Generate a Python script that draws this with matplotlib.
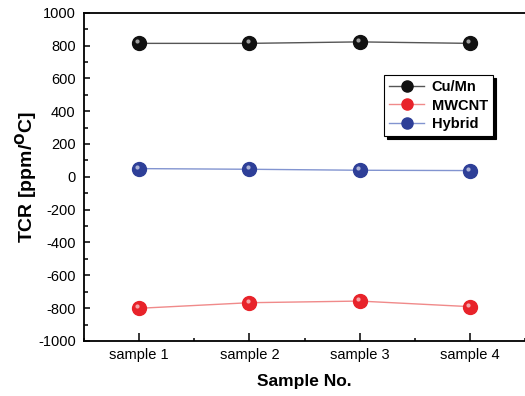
import matplotlib
matplotlib.use("Agg")
import matplotlib.pyplot as plt
import matplotlib.transforms as mtransforms
from matplotlib.ticker import MultipleLocator

plt.rcParams['font.family'] = ['Liberation Sans', 'DejaVu Sans']
plt.rcParams['axes.unicode_minus'] = False

# data
samples = ['sample 1', 'sample 2', 'sample 3', 'sample 4']
cumn = [813, 813, 822, 813]
mwcnt = [-801, -767, -757, -791]
hybrid = [50, 46, 40, 38]

series = [
    ('Cu/Mn', cumn, '#111111', '#555555'),
    ('MWCNT', mwcnt, '#e8232a', '#f08a8a'),
    ('Hybrid', hybrid, '#2e3f98', '#8294d0'),
]

fig = plt.figure(figsize=(5.25, 3.96), dpi=100)
ax = fig.add_axes([0.16, 0.139, 0.84, 0.829])

x = list(range(1, len(samples) + 1))
# small white highlight to mimic the shaded balls
hl = mtransforms.offset_copy(ax.transData, fig=fig, x=-1.3, y=1.4, units='points')
for name, vals, mcol, lcol in series:
    ax.plot(x, vals, '-', color=lcol, lw=1.0, zorder=2)
    ax.plot(x, vals, 'o', color=mcol, ms=10, mec=mcol, zorder=3)
    ax.plot(x, vals, 'o', color='white', ms=3, mew=0, alpha=0.6,
            transform=hl, zorder=4)

# legend handles (line + ball)
handles = []
for name, vals, mcol, lcol in series:
    h, = ax.plot([], [], '-', color=lcol, lw=1.0, marker='o', ms=8,
                 mfc=mcol, mec=mcol, label=name)
    handles.append(h)
leg = ax.legend(handles=handles, loc='upper right', bbox_to_anchor=(0.927, 0.81),
                borderaxespad=0, fancybox=False, framealpha=1,
                edgecolor='black', handlelength=2.4, labelspacing=0.3,
                handletextpad=0.5, borderpad=0.35,
                shadow={'color': 'black', 'alpha': 1},
                prop={'weight': 'bold', 'size': 10.5})
leg.get_frame().set_linewidth(0.8)

ax.set_xlim(0.5, 4.5)
ax.set_ylim(-1000, 1000)
ax.set_xticks(x)
ax.set_xticklabels(samples)
ax.xaxis.set_minor_locator(MultipleLocator(0.5))
ax.yaxis.set_major_locator(MultipleLocator(200))
ax.yaxis.set_minor_locator(MultipleLocator(100))

ax.tick_params(axis='x', which='major', direction='in', length=5.5, width=1.1,
               labelsize=10.5, pad=5)
ax.tick_params(axis='x', which='minor', direction='in', length=2.5, width=1.1)
ax.tick_params(axis='y', which='major', direction='in', length=4, width=1.1,
               labelsize=10.5, pad=6)
ax.tick_params(axis='y', which='minor', direction='in', length=3, width=1.1)

for side in ['left', 'bottom', 'top']:
    ax.spines[side].set_linewidth(1.3)
ax.spines['right'].set_visible(False)

ax.set_xlabel('Sample No.', fontsize=12.5, fontweight='bold', labelpad=9)
ax.set_ylabel(r'TCR [ppm/$^{\mathbf{O}}$C]', fontsize=14, fontweight='bold', labelpad=-1)

fig.savefig('out.png', dpi=100)
